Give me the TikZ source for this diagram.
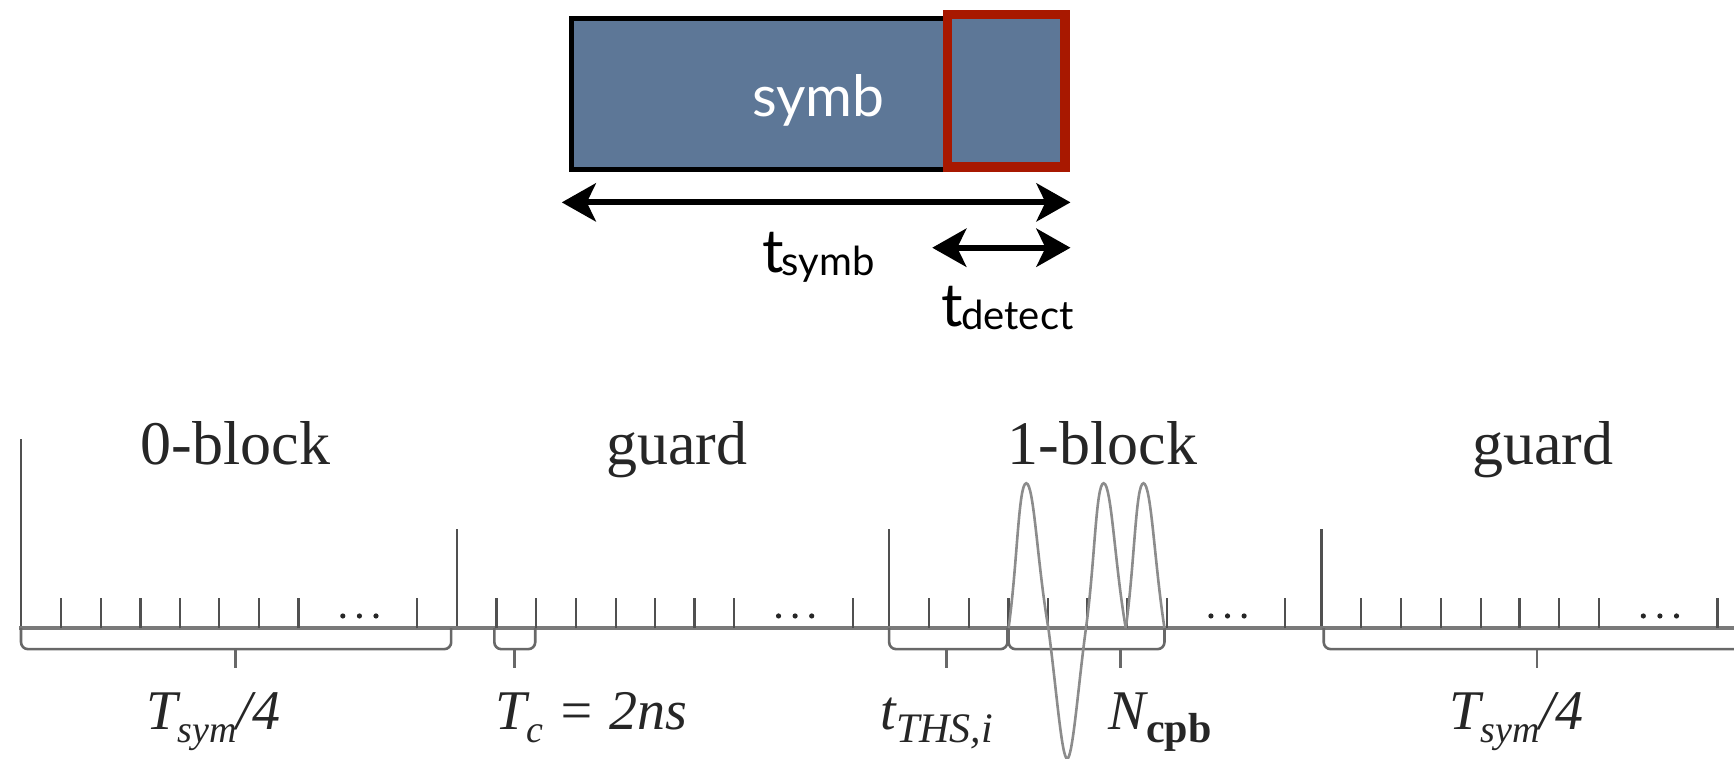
\documentclass[tikz,border=0pt]{standalone}
\usepackage{fontspec}
\setmainfont{Liberation Serif}
\newfontfamily\gillish{Lato}
\usetikzlibrary{arrows.meta}
\definecolor{symbfill}{HTML}{5D7797}
\definecolor{redframe}{HTML}{A81800}
\definecolor{axisgray}{HTML}{7A7A7A}
\definecolor{tickgray}{HTML}{505050}
\definecolor{pulsegray}{HTML}{8C8C8C}
\newcommand\sbs[2][38]{\raisebox{-.22em}{\fontsize{#1}{#1}\selectfont #2}}
\newcommand\tlabel[2]{{\fontsize{60}{60}\selectfont #1\kern-.03em\raisebox{-.06em}{\fontsize{40}{40}\selectfont #2}}}
\tikzset{
  dimarrow/.style={line width=6pt,{Stealth[length=34pt,width=38pt,inset=9pt]}-{Stealth[length=34pt,width=38pt,inset=9pt]}},
  sanslabel/.style={anchor=base,inner sep=0pt,font=\gillish,text=black},
  serifhead/.style={anchor=base,inner sep=0pt,font=\fontsize{62}{62}\selectfont,text=black!85},
  seriflabel/.style={anchor=base,inner sep=0pt,font=\itshape\fontsize{56}{56}\selectfont,text=black!85},
  tickline/.style={line width=2.2pt,draw=tickgray},
  axisline/.style={line width=3.4pt,draw=axisgray},
  braceline/.style={line width=2.6pt,draw=axisgray!85!black,rounded corners=7pt},
  pulse/.style={line width=2.6pt,draw=pulsegray},
}
\newcommand\ticksection[1]{%
  \foreach \d in {36,72,108,144,179,215,251,358}{\draw[tickline] (#1+\d,568) -- (#1+\d,541);}
  \foreach \d in {291,306,321}{\fill[black!85] (#1+\d,557) circle (2.6pt);}
}
\newcommand\bracedraw[3]{%
  \draw[braceline] (#1,568) -- (#1,587) -- (#2,587) -- (#2,568);
  \draw[line width=2.6pt,draw=axisgray!85!black] (#3,587) -- (#3,604);
}
\begin{document}
\begin{tikzpicture}[x=1.10587pt,y=-1.10587pt]
\useasboundingbox (0,0) rectangle (1568,686);
% top block
\path[fill=symbfill,draw=black,line width=5pt] (517,17) rectangle (963,153);
\path[draw=redframe,fill=symbfill,line width=9.5pt] (857,13) rectangle (963,151);
\node[sanslabel,text=white,font=\gillish\fontsize{57}{57}\selectfont] (symb) at (740,105) {symb};
\coordinate (a1l) at (508,183); \coordinate (a1r) at (968,183);
\coordinate (a2l) at (843,224); \coordinate (a2r) at (968,224);
\draw[dimarrow] (a1l) -- (a1r);
\draw[dimarrow] (a2l) -- (a2r);
\node[sanslabel] (tsymb) at (740,246) {\tlabel{t}{symb}};
\node[sanslabel] (tdetect) at (911,295) {\tlabel{t}{detect}};
% timeline
\draw[tickline] (19,568) -- (19,397);
\draw[tickline] (413,568) -- (413,478);
\draw[tickline] (804,568) -- (804,478);
\draw[tickline] (1195,568) -- (1195,478);
\draw[axisline] (17,568) -- (1568,568);
\ticksection{19}
\ticksection{413}
\ticksection{804}
\ticksection{1195}
\bracedraw{19}{408}{213}
\bracedraw{447}{484}{465}
\bracedraw{804}{911}{856}
\bracedraw{912}{1053}{1013}
\bracedraw{1197}{1600}{1390}
% pulses
\draw[pulse] (912,568) .. controls (920,510) and (921,437) .. (928,437) .. controls (935,437) and (938,510) .. (948,568);
\draw[pulse] (948,568) .. controls (955,620) and (960,686) .. (965,686) .. controls (970,686) and (975,620) .. (982,568);
\draw[pulse] (982,568) .. controls (990,510) and (991,437) .. (998,437) .. controls (1005,437) and (1008,510) .. (1018,568);
\draw[pulse] (1018,568) .. controls (1026,510) and (1027,437) .. (1034,437) .. controls (1041,437) and (1044,510) .. (1053,568);
% text
\node[serifhead] (h0) at (213,420) {0-block};
\node[serifhead] (h1) at (612,420) {guard};
\node[serifhead] (h2) at (997,420) {1-block};
\node[serifhead] (h3) at (1395,420) {guard};
\node[seriflabel] (l0) at (193,660) {T\sbs{sym}/4};
\node[seriflabel] (l1) at (535,660) {T\sbs{c} = 2ns};
\node[seriflabel] (l2) at (847,660) {t\sbs[42]{THS,i}};
\node[seriflabel] (l3) at (1049,660) {N\sbs[42]{\upshape\bfseries cpb}};
\node[seriflabel] (l4) at (1371,660) {T\sbs{sym}/4};
\end{tikzpicture}
\end{document}
